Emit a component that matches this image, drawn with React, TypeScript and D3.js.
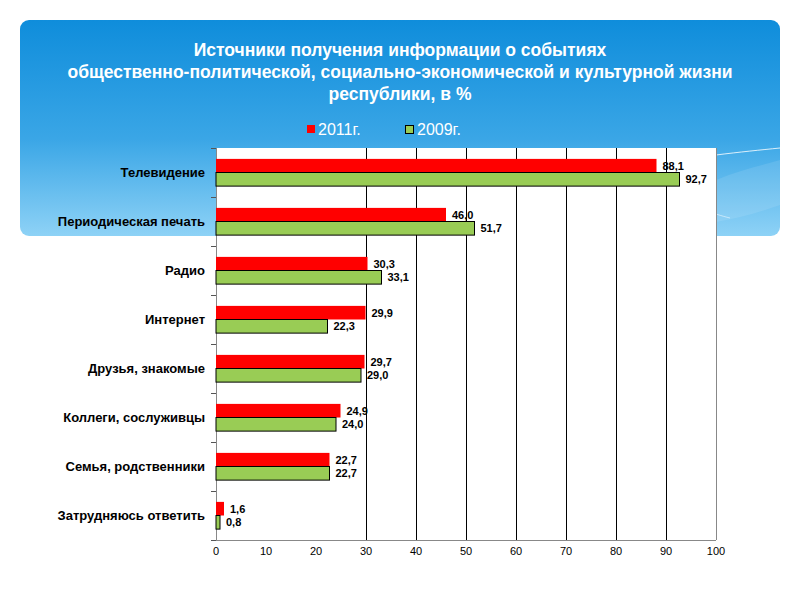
import React from "react";
import * as d3 from "d3";

const categories = [
  "Телевидение",
  "Периодическая печать",
  "Радио",
  "Интернет",
  "Друзья, знакомые",
  "Коллеги, сослуживцы",
  "Семья, родственники",
  "Затрудняюсь ответить",
];
const series = ["2011г.", "2009г."];
const values2011 = [88.1, 46.0, 30.3, 29.9, 29.7, 24.9, 22.7, 1.6];
const values2009 = [92.7, 51.7, 33.1, 22.3, 29.0, 24.0, 22.7, 0.8];
const xTicks = [0, 10, 20, 30, 40, 50, 60, 70, 80, 90, 100];
const gridTicks = [30, 40, 50, 60, 70, 80, 90];
const titleLines = [
  "Источники получения информации о событиях",
  "общественно-политической, социально-экономической и культурной жизни",
  "республики, в %",
];

const W = 800;
const H = 600;
const FONT = "'Liberation Sans', Arial, sans-serif";
const colors = ["#ff0000", "#99cc55"];
const strokes = ["none", "#000"];

export default function App() {
  const x = d3.scaleLinear().domain([0, 100]).range([216, 716]);
  const y = d3.scaleBand().domain(categories).range([148, 540]);
  const sub = d3.scaleBand().domain(series).range([0, y.bandwidth()]).paddingInner(0).paddingOuter(0.8);
  const fmt = (v: number) => v.toFixed(1).replace(".", ",");
  const rows = categories.map((c, i) => ({ c, vals: [values2011[i], values2009[i]] }));
  const bounds = [...categories.map((c) => y(c) as number), 540];
  const px = (v: number) => Math.round(v) + 0.5;

  return (
    <svg width={W} height={H} style={{ position: "absolute", left: 0, top: 0, background: "#fff" }} fontFamily={FONT}>
      <defs>
        <linearGradient id="bg" x1="0" y1="0" x2="0" y2="1">
          <stop offset="0" stopColor="#0f8ddb" />
          <stop offset="0.55" stopColor="#3aa6e6" />
          <stop offset="1" stopColor="#8ed2f6" />
        </linearGradient>
      </defs>
      <rect x={20} y={20} width={760} height={216} rx={9} fill="url(#bg)" />
      <path d="M716,180 C740,170 760,166 780,160 L780,205 C760,212 740,218 716,222 Z" fill="#ffffff" fillOpacity={0.1} />
      <g fill="none" stroke="#ffffff">
        <path d="M716,155 C740,152 760,150 780,148" strokeWidth={1} strokeOpacity={0.8} />
        <path d="M716,214 C722,216 726,217 730,218" strokeWidth={1} strokeOpacity={0.5} />
      </g>

      {titleLines.map((t, i) => (
        <text key={i} x={400} y={56 + i * 22} textAnchor="middle" fill="#fff" fontWeight="bold" fontSize={17.5}>
          {t}
        </text>
      ))}

      {/* legend */}
      <rect x={307} y={125} width={8} height={8} fill={colors[0]} />
      <text x={318} y={135} fill="#fff" fontSize={16}>{series[0]}</text>
      <rect x={405.5} y={125.5} width={8} height={8} fill={colors[1]} stroke="#000" />
      <text x={417} y={135} fill="#fff" fontSize={16}>{series[1]}</text>

      {/* plot area */}
      <rect x={x(0)} y={148} width={x(100) - x(0)} height={392} fill="#fff" />
      {gridTicks.map((t) => (
        <line key={t} x1={px(x(t))} x2={px(x(t))} y1={148} y2={540} stroke="#000" strokeWidth={1} />
      ))}
      <line x1={px(x(100))} x2={px(x(100))} y1={148} y2={540} stroke="#888" />
      <line x1={x(0)} x2={x(100)} y1={540.5} y2={540.5} stroke="#888" />
      <line x1={px(x(0))} x2={px(x(0))} y1={148} y2={540} stroke="#888" />
      {bounds.map((b, i) => (
        <line key={i} x1={x(0) - 5} x2={x(0)} y1={px(b)} y2={px(b)} stroke="#555" />
      ))}

      {rows.map((r) => (
        <g key={r.c}>
          {r.vals.map((v, j) => {
            const yy = (y(r.c) as number) + (sub(series[j]) as number);
            return (
              <g key={j}>
                <rect
                  x={x(0)}
                  y={yy}
                  width={x(v) - x(0)}
                  height={sub.bandwidth()}
                  fill={colors[j]}
                  stroke={strokes[j]}
                  strokeWidth={1}
                />
                <text x={x(v) + 6} y={yy + sub.bandwidth() / 2 + 4} fontSize={11} fontWeight="bold" fill="#000">
                  {fmt(v)}
                </text>
              </g>
            );
          })}
          <text
            x={205}
            y={(y(r.c) as number) + y.bandwidth() / 2 + 4}
            textAnchor="end"
            fontSize={13}
            fontWeight="bold"
            fill="#000"
          >
            {r.c}
          </text>
        </g>
      ))}

      {xTicks.map((t) => (
        <text key={t} x={x(t)} y={555} textAnchor="middle" fontSize={11} fill="#000">
          {t}
        </text>
      ))}
    </svg>
  );
}
